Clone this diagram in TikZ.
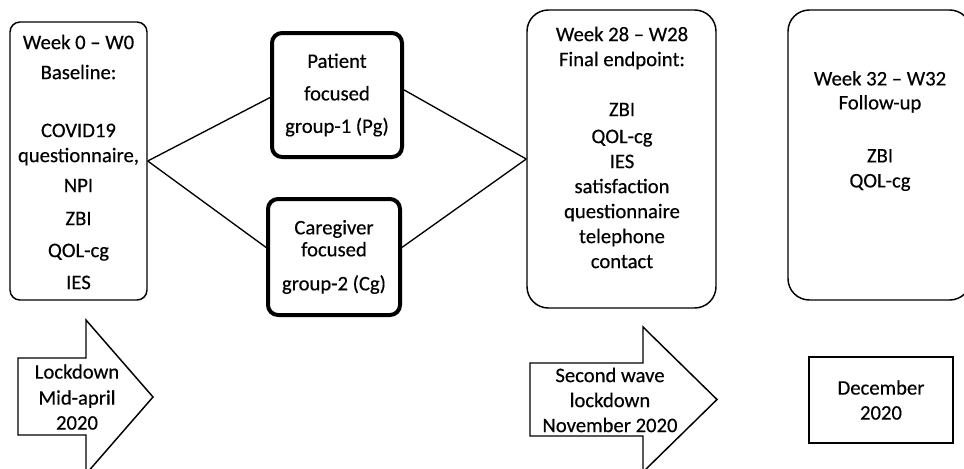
\documentclass[tikz,border=0pt]{standalone}
\usepackage{fontspec}
\setmainfont{Carlito}[FakeBold=0.4]
\usetikzlibrary{calc}
\begin{document}
\begin{tikzpicture}[x=0.75pt,y=-0.75pt,
  txt/.style={align=center,font=\fontsize{15.5}{18.75}\selectfont,inner sep=0pt},
  thinbox/.style={draw,line width=1.1pt,rounded corners=7.5pt},
  bigbox/.style={draw,line width=1.1pt,rounded corners=16pt},
  thickbox/.style={draw,line width=3pt,rounded corners=7.5pt},
  conn/.style={line width=1pt},
  arrowshape/.style={draw,line width=1.1pt,fill=white}]
\useasboundingbox (0,0) rectangle (964,468);
\clip (0,0) rectangle (964,468);
% boxes
\node[thinbox,minimum width=102.75pt,minimum height=208.5pt] (w0) at (78.5,161) {};
\node[txt] (w0t) at (78.5,162) {Week 0 -- W0\\[3.75pt]Baseline:\\[24.75pt]COVID19\\questionnaire,\\[3.75pt]NPI\\[6pt]ZBI\\[5.25pt]QOL-cg\\[5.25pt]IES};
\node[thickbox,minimum width=97.5pt,minimum height=93pt,txt,font=\fontsize{15.5}{24.4}\selectfont] (pg) at (337,95) {Patient\\focused\\group-1 (Pg)};
\node[thickbox,minimum width=99pt,minimum height=87pt,txt] (cg) at (334,257) {Caregiver\\[-2.25pt]focused\\[6.75pt]group-2 (Cg)};
\node[bigbox,minimum width=141.75pt,minimum height=223.5pt] (w28) at (621.5,159) {};
\node[txt] (w28t) at (622,147.5) {Week 28 -- W28\\Final endpoint:\\[18.75pt]ZBI\\[1.5pt]QOL-cg\\IES\\satisfaction\\questionnaire\\telephone\\contact};
\node[bigbox,minimum width=137.25pt,minimum height=217.5pt] (w32) at (879.5,155) {};
\node[txt] (w32t) at (880,131) {Week 32 -- W32\\[-0.75pt]Follow-up\\[21pt]ZBI\\QOL-cg};
\node[draw,line width=1.1pt,minimum width=108pt,minimum height=64.5pt,txt] (dec) at (881,400) {December\\2020};
% connectors
\draw[conn] (w0.east) -- ($(pg.north west)!0.52!(pg.south west)$);
\draw[conn] (w0.east) -- ($(cg.north west)!0.42!(cg.south west)$);
\draw[conn] ($(pg.north east)!0.46!(pg.south east)$) -- (w28.west);
\draw[conn] ($(cg.north east)!0.42!(cg.south east)$) -- (w28.west);
% block arrows
\draw[arrowshape] (18,358) -- (86,358) -- (86,320) -- (153,397) -- (86,474) -- (86,435) -- (18,435) -- cycle;
\node[txt] (lock1) at (77,397) {Lockdown\\[0.75pt]Mid-april\\2020};
\draw[arrowshape] (530,363) -- (643,363) -- (643,327) -- (717,399.5) -- (643,472) -- (643,436) -- (530,436) -- cycle;
\node[txt] (lock2) at (610,400) {Second wave\\lockdown\\November 2020};
\end{tikzpicture}
\end{document}
